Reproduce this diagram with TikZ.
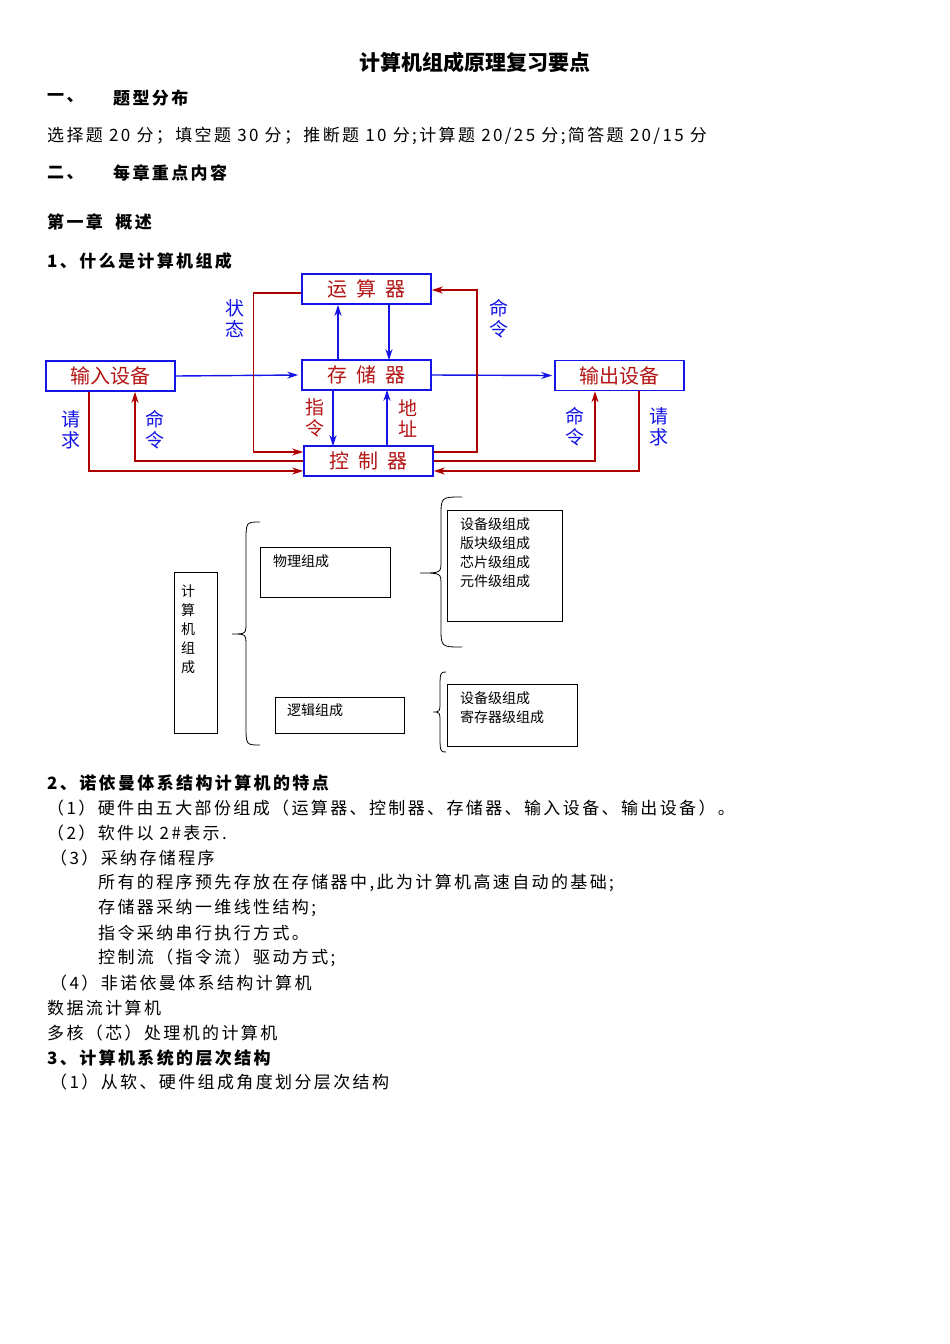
\documentclass[tikz,border=0pt]{standalone}
\usepackage{fontspec}
\setmainfont{Noto Sans CJK SC}
\newfontfamily\bodyf{Noto Sans CJK SC}[LetterSpace=14]
\usetikzlibrary{arrows.meta}
\definecolor{bbl}{RGB}{20,20,230}
\definecolor{drd}{RGB}{180,20,20}
\definecolor{lrd}{RGB}{175,0,0}
\newcommand\mybrace[6]{\draw[thick] (#3,#4) .. controls (#2,#4) .. (#2,#4+20) -- (#2,#5-12) .. controls (#2,#5) .. (#1,#5) .. controls (#2,#5) .. (#2,#5+12) -- (#2,#6-20) .. controls (#2,#6) .. (#3,#6);}
\begin{document}
\begin{tikzpicture}[x=1pt,y=-1pt,
 box/.style={draw=bbl,line width=1.6pt,minimum width=129pt,minimum height=30pt,inner sep=0pt,text=drd,font=\fontsize{20}{22}\selectfont},
 blab/.style={text=bbl,font=\fontsize{19}{21}\selectfont,align=center,inner sep=0pt},
 rlab/.style={text=drd,font=\fontsize{19}{21}\selectfont,align=center,inner sep=0pt},
 barrow/.style={draw=bbl,line width=1.4pt,-{Stealth[length=11pt,width=7pt]}},
 rarrow/.style={draw=lrd,line width=1.4pt,-{Stealth[length=11pt,width=7pt]}},
 txt/.style={anchor=west,inner sep=0pt,font=\bodyf\fontsize{17}{19}\selectfont},
 btxt/.style={anchor=west,inner sep=0pt,font=\bodyf\fontsize{17}{19}\selectfont\bfseries},
 sbox/.style={draw,thick,inner sep=0pt},
 stx/.style={inner sep=0pt,font=\fontsize{14}{19}\selectfont,align=left}]
\useasboundingbox[fill=white] (0,0) rectangle (950,1344);
% headings
\node[inner sep=0pt,font=\fontsize{21}{23}\selectfont\bfseries] (title) at (475,62) {计算机组成原理复习要点};
\node[btxt] (h1a) at (47,98) {一、};
\node[btxt] (h1b) at (113,98) {题型分布};
\node[txt] (l1) at (47,136) {选择题 20 分；填空题 30 分；推断题 10 分;计算题 20/25 分;简答题 20/15 分};
\node[btxt] (h2a) at (47,173) {二、};
\node[btxt] (h2b) at (113,173) {每章重点内容};
\node[btxt] (ch1) at (47,222) {第一章\ \ 概述};
\node[btxt] (s1) at (47,261) {1、什么是计算机组成};
% diagram 1
\node[box] (ys) at (366.5,289) {运\ \ 算\ \ 器};
\node[box] (cc) at (366.5,375) {存\ \ 储\ \ 器};
\node[box] (kz) at (368.5,461) {控\ \ 制\ \ 器};
\node[box] (in) at (110.5,376) {输入设备};
\node[box] (out) at (619.5,375.5) {输出设备};
\coordinate (xa) at (338,0); \coordinate (xb) at (389,0);
\coordinate (xc) at (333,0); \coordinate (xd) at (387,0);
\coordinate (xe) at (89,0); \coordinate (xf) at (135,0);
\coordinate (xg) at (595,0); \coordinate (xh) at (639,0);
\draw[barrow] (cc.north -| xa) -- (ys.south -| xa);
\draw[barrow] (ys.south -| xb) -- ([yshift=-1pt]cc.north -| xb);
\draw[barrow] (cc.south -| xc) -- ([yshift=-1pt]kz.north -| xc);
\draw[barrow] (kz.north -| xd) -- ([yshift=1pt]cc.south -| xd);
\draw[barrow] (in.east) -- ([xshift=-3pt]cc.west);
\draw[barrow] (cc.east) -- ([xshift=-2pt]out.west);
\draw[rarrow] ([yshift=-4pt]ys.west) -- ++(-48,0) |- ([yshift=9pt]kz.west);
\draw[rarrow] ([yshift=9pt]kz.east) -- ++(43,0) |- ([yshift=-1pt]ys.east);
\draw[rarrow] (in.south -| xe) |- ([yshift=-10pt]kz.west);
\draw[rarrow] (kz.west) -| (in.south -| xf);
\draw[rarrow] (kz.east) -| (out.south -| xg);
\draw[rarrow] (out.south -| xh) |- ([yshift=-10pt]kz.east);
\node[blab] (zt) at (235,319) {状\\态};
\node[blab] (ml1) at (499,319) {命\\令};
\node[blab] (qq1) at (71,430) {请\\求};
\node[blab] (ml2) at (155,430) {命\\令};
\node[rlab] (zl) at (315,418) {指\\令};
\node[rlab] (dz) at (408,418) {地\\址};
\node[blab] (ml3) at (575,427) {命\\令};
\node[blab] (qq2) at (659,427) {请\\求};
% diagram 2
\node[sbox,minimum width=43pt,minimum height=161pt] (jsj) at (195.5,652.5) {};
\node[stx,anchor=north west] (jsjt) at (181,585) {计\\算\\机\\组\\成};
\node[sbox,minimum width=130pt,minimum height=50pt] (wl) at (325,572) {};
\node[stx,anchor=north west] (wlt) at (273,555) {物理组成};
\node[sbox,minimum width=115pt,minimum height=111pt] (wlb) at (504.5,565.5) {};
\node[stx,anchor=north west] (wlbt) at (460,517) {设备级组成\\版块级组成\\芯片级组成\\元件级组成};
\node[sbox,minimum width=129pt,minimum height=36pt] (lj) at (339.5,715) {};
\node[stx,anchor=north west] (ljt) at (287,704) {逻辑组成};
\node[sbox,minimum width=130pt,minimum height=62pt] (ljb) at (512,715) {};
\node[stx,anchor=north west] (ljbt) at (460,691) {设备级组成\\寄存器级组成};
\mybrace{232}{246}{260}{522}{634}{745}
\mybrace{420}{441}{462}{497}{573}{647}
\mybrace{433}{440}{446}{672}{712}{752}
% text
\node[btxt] (s2) at (47,783) {2、诺依曼体系结构计算机的特点};
\node[txt] (t1) at (47,808) {（1）硬件由五大部份组成（运算器、控制器、存储器、输入设备、输出设备）。};
\node[txt] (t2) at (47,833) {（2）软件以 2\#表示.};
\node[txt] (t3) at (50,858) {（3）采纳存储程序};
\node[txt] (t4) at (98,883) {所有的程序预先存放在存储器中,此为计算机高速自动的基础;};
\node[txt] (t5) at (98,908) {存储器采纳一维线性结构;};
\node[txt] (t6) at (98,933) {指令采纳串行执行方式。};
\node[txt] (t7) at (98,958) {控制流（指令流）驱动方式;};
\node[txt] (t8) at (50,983) {（4）非诺依曼体系结构计算机};
\node[txt] (t9) at (47,1008) {数据流计算机};
\node[txt] (t10) at (47,1033) {多核（芯）处理机的计算机};
\node[btxt] (s3) at (47,1058) {3、计算机系统的层次结构};
\node[txt] (t11) at (50,1082) {（1）从软、硬件组成角度划分层次结构};
\end{tikzpicture}
\end{document}
